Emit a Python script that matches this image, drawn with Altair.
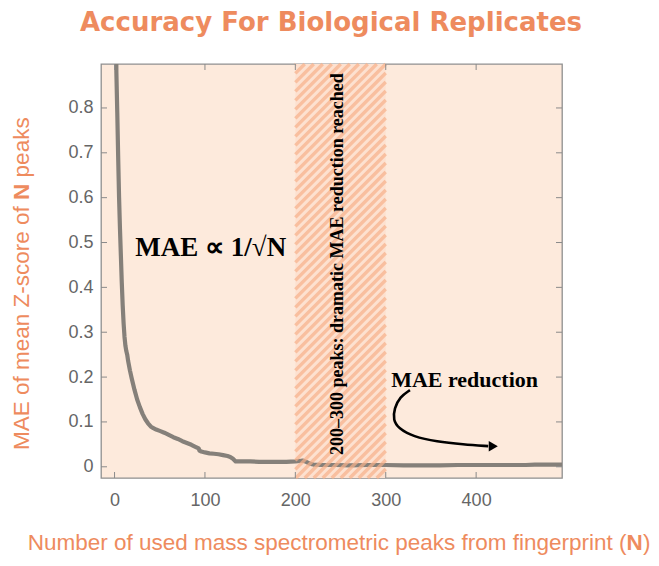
import altair as alt
import pandas as pd
import numpy as np

# ---- data ----
N_PEAKS = [1, 2, 3, 4, 5, 6, 7, 8, 9, 10, 11, 12, 13, 14, 15,
           17, 19, 22, 25, 28, 31, 34, 37, 40, 43, 46, 50, 55, 60, 65, 70, 75, 80, 85, 90,
           93, 94, 96, 100, 105, 110, 115, 120, 125, 128, 131, 134,
           140, 150, 160, 170, 180, 190, 200,
           205, 208, 212, 216, 220, 230, 245, 260, 280, 300,
           320, 340, 360, 380, 400, 420, 440, 455, 465, 480, 495]
MAE = [1.30, 0.88, 0.79, 0.69, 0.60, 0.53, 0.47, 0.41, 0.36, 0.32, 0.29, 0.27, 0.258, 0.250, 0.236,
       0.215, 0.197, 0.172, 0.150, 0.133, 0.118, 0.106, 0.097, 0.090, 0.086, 0.083, 0.080, 0.076,
       0.071, 0.066, 0.062, 0.057, 0.053, 0.049, 0.044,
       0.041, 0.036, 0.034, 0.032, 0.030, 0.029, 0.028, 0.026, 0.024, 0.022, 0.018, 0.012,
       0.012, 0.012, 0.011, 0.011, 0.011, 0.011, 0.012,
       0.013, 0.014, 0.011, 0.007, 0.005, 0.004, 0.004, 0.003, 0.004, 0.004,
       0.003, 0.003, 0.003, 0.004, 0.004, 0.004, 0.004, 0.004, 0.005, 0.005, 0.005]

X_TICKS = [0, 100, 200, 300, 400]
Y_TICKS = [0, 0.1, 0.2, 0.3, 0.4, 0.5, 0.6, 0.7, 0.8]
BAND = [200, 300]

ARROW_N = [326.8, 315.7, 309.4, 308.3, 313.9, 330.5, 356.3, 385.8, 413.4]
ARROW_MAE = [0.171, 0.156, 0.130, 0.104, 0.086, 0.067, 0.056, 0.050, 0.046]
ARROW_HEAD = (419.0, 0.046)

TITLE = "Accuracy For Biological Replicates"
X_TITLE_A = "Number of used mass spectrometric peaks from fingerprint ("
X_TITLE_B = "N"
X_TITLE_C = ")"
Y_TITLE_A = "MAE of mean Z-score of"
Y_TITLE_B = "N"
Y_TITLE_C = "peaks"
ANNOT_FORMULA = "MAE \u221d 1/\u221aN"
ANNOT_BAND = "200\u2013300 peaks: dramatic MAE reduction reached"
ANNOT_RED = "MAE reduction"

# ---- layout ----
W, H = 461, 414
X_DOM = [-15, 495]
Y_DOM = [-0.025, 0.898]
ORANGE = "#EE8B5E"
GREY_TXT = "#666666"
SANS = "Liberation Sans"
SERIF = "Liberation Serif"

xs = alt.Scale(domain=X_DOM, nice=False, zero=False)
ys = alt.Scale(domain=Y_DOM, nice=False, zero=False)
AX = alt.Axis(values=X_TICKS, title=None, grid=False, domain=False, ticks=False,
              tickSize=0, labelPadding=27, labelBaseline="alphabetic",
              labelFontSize=18, labelFont=SANS, labelColor=GREY_TXT, labelFlush=False)
AY = alt.Axis(values=Y_TICKS, format=".1~f", title=None, grid=False, domain=False,
              ticks=False, tickSize=0, labelPadding=8, labelFontSize=18,
              labelFont=SANS, labelColor=GREY_TXT)


def X(f):
    return alt.X(f, scale=xs, axis=AX)


def Y(f):
    return alt.Y(f, scale=ys, axis=AY)


curve = pd.DataFrame({"N": N_PEAKS, "MAE": MAE})

# band background
band_df = pd.DataFrame({"a": [BAND[0]], "b": [BAND[1]]})
band = alt.Chart(band_df).mark_rect(color="#FDE1D0").encode(
    x=X("a:Q"), x2="b:Q", y=alt.value(0), y2=alt.value(H))

# hatch stripes inside the band (45 degrees in pixel space)
pxN = W / (X_DOM[1] - X_DOM[0])
pxY = H / (Y_DOM[1] - Y_DOM[0])
Bw = (BAND[1] - BAND[0]) * pxN
rows = []
for c in np.arange(-Bw, H, 9.0):
    u0 = max(0.0, -c)
    u1 = min(Bw, H - c)
    if u1 > u0:
        rows.append({"n1": BAND[0] + u0 / pxN, "m1": Y_DOM[0] + (u0 + c) / pxY,
                     "n2": BAND[0] + u1 / pxN, "m2": Y_DOM[0] + (u1 + c) / pxY})
hatch_df = pd.DataFrame(rows)
hatch = alt.Chart(hatch_df).mark_rule(color="#F7B08A", strokeWidth=3.4, opacity=0.7).encode(
    x=X("n1:Q"), y=Y("m1:Q"), x2="n2:Q", y2="m2:Q")

line = alt.Chart(curve).mark_line(color="#85807A", strokeWidth=4.2, clip=True,
                                  strokeJoin="round", strokeCap="round").encode(
    x=X("N:Q"), y=Y("MAE:Q"))

# inward ticks on all four sides
xt = pd.DataFrame({"v": X_TICKS})
yt = pd.DataFrame({"v": Y_TICKS})
TK = "#8a8a8a"
tick_b = alt.Chart(xt).mark_rule(color=TK).encode(
    x=X("v:Q"), y=alt.value(H), y2=alt.value(H - 6))
tick_t = alt.Chart(xt).mark_rule(color=TK).encode(
    x=X("v:Q"), y=alt.value(0), y2=alt.value(6))
tick_l = alt.Chart(yt).mark_rule(color=TK).encode(
    y=Y("v:Q"), x=alt.value(0), x2=alt.value(6))
tick_r = alt.Chart(yt).mark_rule(color=TK).encode(
    y=Y("v:Q"), x=alt.value(W), x2=alt.value(W - 6))

# arrow
arrow_df = pd.DataFrame({"N": ARROW_N, "MAE": ARROW_MAE, "o": list(range(len(ARROW_N)))})
arrow = alt.Chart(arrow_df).mark_line(color="black", strokeWidth=2.6, interpolate="basis").encode(
    x=X("N:Q"), y=Y("MAE:Q"), order="o:Q")
head = alt.Chart(pd.DataFrame({"N": [ARROW_HEAD[0]], "MAE": [ARROW_HEAD[1]]})).mark_point(
    shape="triangle-right", filled=True, color="black", size=110, opacity=1).encode(
    x=X("N:Q"), y=Y("MAE:Q"))


# annotations in data coordinates
def data_text(txt, n, m, **kw):
    df = pd.DataFrame({"t": [txt], "N": [n], "MAE": [m]})
    return alt.Chart(df).mark_text(**kw).encode(x=X("N:Q"), y=Y("MAE:Q"), text="t:N")


t_formula = data_text(ANNOT_FORMULA, 23, 0.469, font=SERIF, fontSize=27, fontWeight="bold",
                      align="left", baseline="alphabetic", color="black")
t_band = data_text(ANNOT_BAND, 247.5, 0.452, font=SERIF, fontSize=18, fontWeight="bold",
                   align="center", baseline="middle", angle=270, color="black")
t_red = data_text(ANNOT_RED, 306, 0.178, font=SERIF, fontSize=22, fontWeight="bold",
                  align="left", baseline="alphabetic", color="black")


# titles placed in pixels around the plot
def px_text(txt, x, y, **kw):
    return alt.Chart(pd.DataFrame({"t": [txt]})).mark_text(**kw).encode(
        x=alt.value(x), y=alt.value(y), text="t:N")


title = px_text(TITLE, 230, -33, font="DejaVu Sans", fontSize=26, fontWeight="bold",
                color=ORANGE, align="center", baseline="alphabetic")
xa = px_text(X_TITLE_A, 525.6, 486, font=SANS, fontSize=22.5, color=ORANGE,
             align="right", baseline="alphabetic")
xb = px_text(X_TITLE_B, 533.7, 486, font=SANS, fontSize=22.5, fontWeight="bold", color=ORANGE,
             align="center", baseline="alphabetic")
xc = px_text(X_TITLE_C, 541.9, 486, font=SANS, fontSize=22.5, color=ORANGE,
             align="left", baseline="alphabetic")
YX = -71.7
ya = px_text(Y_TITLE_A, YX, 142.2, font=SANS, fontSize=22.5, color=ORANGE, angle=270,
             align="right", baseline="alphabetic")
yb = px_text(Y_TITLE_B, YX, 127.8, font=SANS, fontSize=22.5, fontWeight="bold", color=ORANGE,
             angle=270, align="center", baseline="alphabetic")
yc = px_text(Y_TITLE_C, YX, 113.4, font=SANS, fontSize=22.5, color=ORANGE, angle=270,
             align="left", baseline="alphabetic")

chart = alt.layer(
    band, line, hatch, tick_b, tick_t, tick_l, tick_r, arrow, head,
    t_formula, t_band, t_red, title, xa, xb, xc, ya, yb, yc
).properties(
    width=W, height=H,
    autosize=alt.AutoSizeParams(type="none"),
    padding={"left": 93, "top": 56, "right": 88, "bottom": 82},
    background="white",
).configure_view(
    stroke="#8f8f8f", strokeWidth=1.3, fill="#FDEADC"
)

chart.save("out.html", embed_options={"renderer": "svg", "actions": False})
